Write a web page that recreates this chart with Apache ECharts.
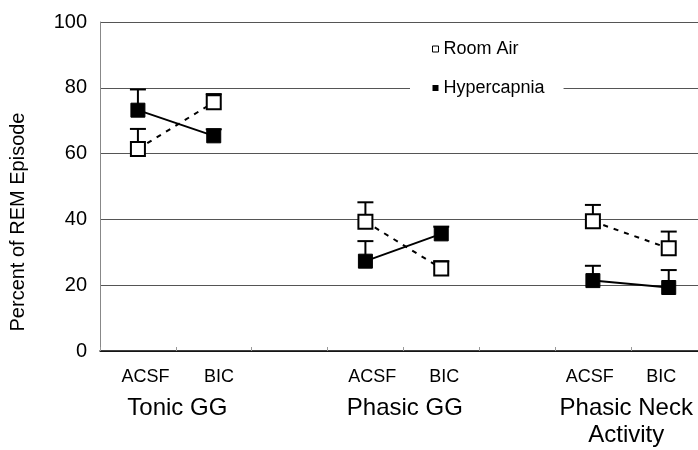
<!DOCTYPE html>
<html>
<head>
<meta charset="utf-8">
<script src="https://cdn.jsdelivr.net/npm/echarts@6/dist/echarts.min.js"></script>
<style>
  html, body { margin: 0; padding: 0; background: #fff; }
  #chart { width: 698px; height: 450px; }
</style>
</head>
<body>
<div id="chart"></div>
<script>
// x positions of the six points (axis units, 1 unit = one tick step)
const xPos = [0.5, 1.5, 3.5, 4.5, 6.5, 7.5];
// means and top of error bars
const roomAir = [61.4, 75.6, 39.3, 25.1, 39.4, 31.2];
const roomAirTop = [67.5, 78.1, 45.2, 27.3, 44.4, 36.3];
const hyper = [73.2, 65.4, 27.3, 35.6, 21.4, 19.3];
const hyperTop = [79.5, 67.4, 33.4, 37.8, 25.9, 24.6];
// x labels
const conditions = ['ACSF', 'BIC', 'ACSF', 'BIC', 'ACSF', 'BIC'];
const condPos = [0.6, 1.57, 3.59, 4.54, 6.46, 7.4];
const groups = ['Tonic GG', 'Phasic GG', 'Phasic Neck\nActivity'];
const groupPos = [1.02, 4.02, 6.94];

const FONT = '"Liberation Sans", Arial, sans-serif';
const X_MAX = 7.886;

// line data, broken between groups
function lineData(vals) {
  const out = [];
  vals.forEach(function (v, i) {
    out.push([xPos[i], v]);
    if (i % 2 === 1 && i < vals.length - 1) out.push([xPos[i] + 1, '-']);
  });
  return out;
}

function errData(vals, tops) {
  return vals.map(function (v, i) { return [xPos[i], v, tops[i]]; });
}

function renderErr(params, api) {
  const base = api.coord([api.value(0), api.value(1)]);
  const top = api.coord([api.value(0), api.value(2)]);
  const st = { stroke: '#000', lineWidth: 2 };
  return {
    type: 'group',
    children: [
      { type: 'line', shape: { x1: base[0], y1: base[1], x2: top[0], y2: top[1] }, style: st },
      { type: 'line', shape: { x1: top[0] - 8, y1: top[1], x2: top[0] + 8, y2: top[1] }, style: st }
    ]
  };
}

const chart = echarts.init(document.getElementById('chart'));
const option = {
  animation: false,
  textStyle: { fontFamily: FONT },
  grid: [
    { left: 100, right: 0, top: 22, bottom: 99, containLabel: false, outerBoundsMode: 'none' },
    { left: 100, right: 0, top: 22, bottom: 99, containLabel: false, outerBoundsMode: 'none' }
  ],
  legend: {
    orient: 'vertical',
    left: 410,
    top: 35,
    padding: [4, 19, 4, 22],
    itemWidth: 6,
    itemHeight: 6,
    itemGap: 19,
    icon: 'rect',
    backgroundColor: '#fff',
    selectedMode: false,
    textStyle: { fontSize: 18, lineHeight: 20, color: '#000', fontFamily: FONT },
    data: [
      { name: 'Room Air', itemStyle: { color: '#fff', borderColor: '#000', borderWidth: 1 } },
      { name: 'Hypercapnia', itemStyle: { color: '#000', borderWidth: 0 } }
    ]
  },
  xAxis: [
    {
      type: 'value', gridIndex: 0, min: 0, max: X_MAX, interval: 1,
      axisLine: { lineStyle: { color: '#000', width: 1.5 } },
      axisTick: { inside: true, length: 4, lineStyle: { color: '#999' } },
      splitLine: { show: false },
      axisLabel: {
        customValues: condPos,
        formatter: function (v) { return conditions[condPos.indexOf(v)]; },
        fontSize: 18, lineHeight: 18, color: '#000', margin: 17, fontFamily: FONT
      }
    },
    {
      type: 'value', gridIndex: 1, min: 0, max: X_MAX, interval: 1,
      axisLine: { show: false },
      axisTick: { show: false },
      splitLine: { show: false },
      axisLabel: {
        customValues: groupPos,
        formatter: function (v) { return groups[groupPos.indexOf(v)]; },
        fontSize: 24, lineHeight: 27, color: '#000', margin: 44, fontFamily: FONT
      }
    }
  ],
  yAxis: [
    {
      type: 'value', gridIndex: 0, min: 0, max: 100, interval: 20,
      axisLine: { show: true, lineStyle: { color: '#888', width: 1 } },
      axisTick: { show: false },
      splitLine: { show: true, lineStyle: { color: '#555', width: 1 } },
      axisLabel: { fontSize: 20, color: '#000', margin: 13, fontFamily: FONT }
    },
    { type: 'value', gridIndex: 1, min: 0, max: 100, show: false }
  ],
  graphic: [
    {
      type: 'text', x: 18, y: 222, rotation: Math.PI / 2,
      style: {
        text: 'Percent of REM Episode', font: '20px "Liberation Sans", Arial, sans-serif',
        textAlign: 'center', textVerticalAlign: 'middle', fill: '#000'
      }
    }
  ],
  series: [
    {
      type: 'custom', xAxisIndex: 0, yAxisIndex: 0, z: 1,
      renderItem: renderErr, encode: { x: 0, y: [1, 2] },
      data: errData(roomAir, roomAirTop)
    },
    {
      type: 'custom', xAxisIndex: 0, yAxisIndex: 0, z: 1,
      renderItem: renderErr, encode: { x: 0, y: [1, 2] },
      data: errData(hyper, hyperTop)
    },
    {
      name: 'Room Air', type: 'line', z: 3,
      data: lineData(roomAir),
      symbol: 'rect', symbolSize: 14,
      lineStyle: { color: '#000', width: 2, type: [5, 6] },
      itemStyle: { color: '#fff', borderColor: '#000', borderWidth: 2 }
    },
    {
      name: 'Hypercapnia', type: 'line', z: 4,
      data: lineData(hyper),
      symbol: 'rect', symbolSize: 14,
      lineStyle: { color: '#000', width: 2 },
      itemStyle: { color: '#000', borderColor: '#000', borderWidth: 1 }
    }
  ]
};
chart.setOption(option);
</script>
</body>
</html>
